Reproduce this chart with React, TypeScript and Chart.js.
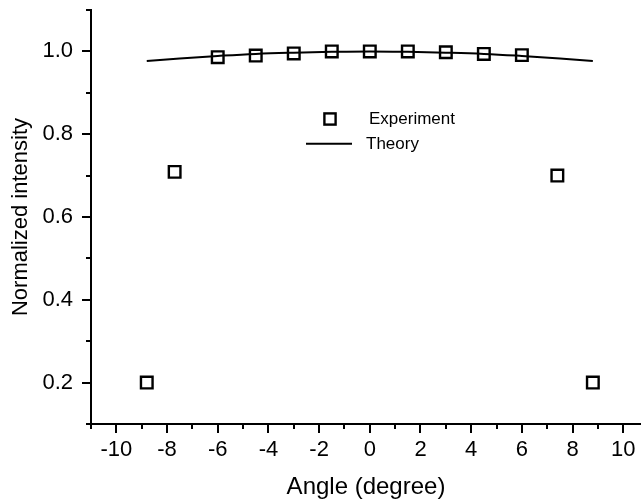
import React, { useEffect, useRef } from 'react';
import { Chart, registerables } from 'chart.js';

Chart.register(...registerables);

const expAngles = [-8.8, -7.7, -6, -4.5, -3, -1.5, 0, 1.5, 3, 4.5, 6, 7.4, 8.8];
const expIntensity = [0.2, 0.709, 0.986, 0.99, 0.995, 1.0, 1.0, 1.0, 0.998, 0.994, 0.991, 0.7, 0.2];
const theoryAngles = [-8.8, -7.5, -6, -4.5, -3, -1.5, 0, 1.5, 3, 4.5, 6, 7.5, 8.8];
const theoryIntensity = [0.977, 0.983, 0.989, 0.994, 0.997, 0.999, 1.0, 0.999, 0.997, 0.994, 0.989, 0.983, 0.977];
const xTickLabels = [-10, -8, -6, -4, -2, 0, 2, 4, 6, 8, 10];
const yTickLabels = ['0.2', '0.4', '0.6', '0.8', '1.0'];
const seriesNames = ['Experiment', 'Theory'];

const FONT = "'Liberation Sans', Arial, sans-serif";

const isMajorX = (v: number) => xTickLabels.indexOf(Math.round(v * 1000) / 1000) >= 0;
const isMajorY = (v: number) => yTickLabels.indexOf((Math.round(v * 10) / 10).toFixed(1)) >= 0;

const axisTicks = {
  id: 'axisTicks',
  afterDraw(chart: any) {
    const ctx = chart.ctx;
    const area = chart.chartArea;
    const xs = chart.scales.x;
    const ys = chart.scales.y;
    ctx.save();
    ctx.fillStyle = '#000';
    for (let v = Math.ceil(xs.min); v <= Math.floor(xs.max); v++) {
      const px = Math.round(xs.getPixelForValue(v));
      const len = isMajorX(v) ? 9 : 5;
      ctx.fillRect(px - 1, area.bottom, 2, len);
    }
    for (let k = Math.ceil(ys.min * 10 - 1e-6); k <= Math.floor(ys.max * 10 + 1e-6); k++) {
      const v = k / 10;
      const py = Math.round(ys.getPixelForValue(v));
      const len = isMajorY(v) ? 9 : 5;
      ctx.fillRect(area.left - len, py - 1, len, 2);
    }
    ctx.restore();
  },
};

const insetLegend = {
  id: 'insetLegend',
  afterDraw(chart: any) {
    const ctx = chart.ctx;
    const x0 = chart.chartArea.left;
    const y0 = chart.chartArea.top;
    ctx.save();
    ctx.strokeStyle = '#000';
    ctx.fillStyle = '#000';
    ctx.lineWidth = 2.4;
    ctx.strokeRect(x0 + 239 - 5.6, y0 + 109 - 5.6, 11.2, 11.2);
    ctx.lineWidth = 2;
    ctx.beginPath();
    ctx.moveTo(x0 + 215, y0 + 133.7);
    ctx.lineTo(x0 + 261, y0 + 133.7);
    ctx.stroke();
    ctx.font = `17px ${FONT}`;
    ctx.textBaseline = 'middle';
    ctx.textAlign = 'left';
    ctx.fillText(seriesNames[0], x0 + 278, y0 + 109);
    ctx.fillText(seriesNames[1], x0 + 275, y0 + 134);
    ctx.restore();
  },
};

export default function App() {
  const ref = useRef<HTMLCanvasElement | null>(null);

  useEffect(() => {
    if (!ref.current) return;
    const chart = new Chart(ref.current, {
      type: 'scatter',
      data: {
        datasets: [
          {
            label: seriesNames[1],
            type: 'line',
            data: theoryAngles.map((x, i) => ({ x, y: theoryIntensity[i] })),
            borderColor: '#000',
            borderWidth: 2,
            pointRadius: 0,
            fill: false,
            tension: 0.4,
          } as any,
          {
            label: seriesNames[0],
            data: expAngles.map((x, i) => ({ x, y: expIntensity[i] })),
            pointStyle: 'rect',
            pointRadius: 8.2,
            hoverRadius: 8.2,
            borderColor: '#000',
            borderWidth: 2.4,
            backgroundColor: 'rgba(0,0,0,0)',
            showLine: false,
          },
        ],
      },
      options: {
        responsive: false,
        animation: false,
        events: [],
        layout: { autoPadding: false, padding: { top: 10, right: 0, left: 0, bottom: 0 } },
        plugins: {
          legend: { display: false },
          tooltip: { enabled: false },
        },
        scales: {
          x: {
            type: 'linear',
            min: -11,
            max: 10.7,
            afterFit: (s: any) => {
              s.height = 80;
              s.paddingLeft = 0;
              s.paddingRight = 0;
            },
            ticks: {
              stepSize: 1,
              autoSkip: false,
              maxRotation: 0,
              includeBounds: false,
              padding: 4,
              color: '#000',
              font: { family: FONT, size: 22 },
              callback: (v: any) => (isMajorX(Number(v)) ? String(Math.round(Number(v))) : ''),
            },
            grid: {
              display: true,
              drawOnChartArea: false,
              drawTicks: true,
              tickLength: 9,
              tickColor: 'rgba(0,0,0,0)',
              color: 'rgba(0,0,0,0)',
            },
            border: { display: true, color: '#000', width: 2 },
            title: {
              display: true,
              text: 'Angle (degree)',
              color: '#000',
              font: { family: FONT, size: 24 },
              padding: { top: 0, bottom: 2 },
            },
          },
          y: {
            type: 'linear',
            min: 0.1,
            max: 1.1,
            afterFit: (s: any) => {
              s.width = 91;
              s.paddingTop = 0;
              s.paddingBottom = 0;
            },
            ticks: {
              stepSize: 0.1,
              autoSkip: false,
              padding: 9,
              color: '#000',
              font: { family: FONT, size: 22 },
              callback: (v: any) => (isMajorY(Number(v)) ? (Math.round(Number(v) * 10) / 10).toFixed(1) : ''),
            },
            grid: {
              display: true,
              drawOnChartArea: false,
              drawTicks: true,
              tickLength: 9,
              tickColor: 'rgba(0,0,0,0)',
              color: 'rgba(0,0,0,0)',
            },
            border: { display: true, color: '#000', width: 2 },
            title: {
              display: true,
              text: 'Normalized intensity',
              color: '#000',
              font: { family: FONT, size: 22 },
              padding: { top: 8, bottom: 0 },
            },
          },
        },
      },
      plugins: [axisTicks, insetLegend],
    });
    return () => chart.destroy();
  }, []);

  return (
    <div style={{ position: 'fixed', left: 0, top: 0, width: 641, height: 504, background: '#fff' }}>
      <canvas ref={ref} width={641} height={504} style={{ display: 'block' }} />
    </div>
  );
}
